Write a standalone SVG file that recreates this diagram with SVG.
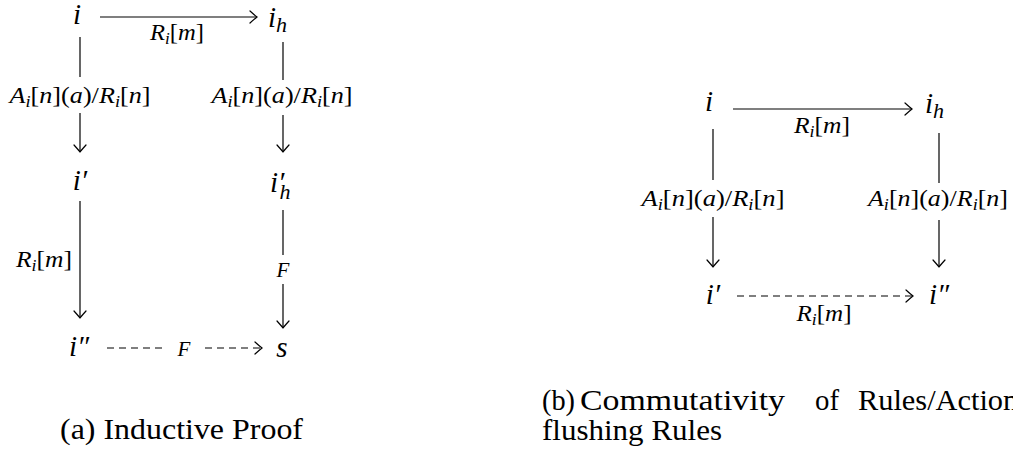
<svg xmlns="http://www.w3.org/2000/svg" width="1013" height="452" viewBox="0 0 1013 452">
  <defs>
    <!-- open "to" arrow tip shared by all connectors -->
    <marker id="to" markerUnits="userSpaceOnUse" markerWidth="16" markerHeight="16" viewBox="-10 -8 12 16" refX="0" refY="0" orient="auto">
      <path d="M-7,-6 Q-2,-1.5 0,0 Q-2,1.5 -7,6" fill="none" stroke="#000" stroke-width="1.2" stroke-linecap="round"/>
    </marker>
  </defs>

  <!-- connectors -->
  <g id="connectors" fill="none" stroke="#000" stroke-width="1.2">
    <!-- left square -->
    <path d="M100,17 H257" marker-end="url(#to)"/>
    <path d="M80,37 V77"/>
    <path d="M80,113 V152" marker-end="url(#to)"/>
    <path d="M283,42 V80"/>
    <path d="M283,115 V152" marker-end="url(#to)"/>
    <path d="M80,201 V318" marker-end="url(#to)"/>
    <path d="M283,210 V255"/>
    <path d="M283,284 V328" marker-end="url(#to)"/>
    <path d="M107,348 H167" stroke-dasharray="7 5"/>
    <path d="M205,348 H262" stroke-dasharray="7 5" marker-end="url(#to)"/>
    <!-- right square -->
    <path d="M733,109 H912" marker-end="url(#to)"/>
    <path d="M713,129 V180"/>
    <path d="M713,217 V267" marker-end="url(#to)"/>
    <path d="M939,133 V183"/>
    <path d="M939,220 V267" marker-end="url(#to)"/>
    <path d="M737,296 H913" stroke-dasharray="7 5" marker-end="url(#to)"/>
  </g>

  <!-- connector labels -->
  <g id="edge-labels" font-family="Liberation Serif" font-size="23" fill="#000">
    <text x="177" y="40" text-anchor="middle" textLength="54" lengthAdjust="spacingAndGlyphs"><tspan font-style="italic">R</tspan><tspan font-size="16" font-style="italic" dy="4">i</tspan><tspan dy="-4">[</tspan><tspan font-style="italic">m</tspan>]</text>
    <text x="80" y="103" text-anchor="middle" textLength="141" lengthAdjust="spacingAndGlyphs"><tspan font-style="italic">A</tspan><tspan font-size="16" font-style="italic" dy="4">i</tspan><tspan dy="-4">[</tspan><tspan font-style="italic">n</tspan>](<tspan font-style="italic">a</tspan>)/<tspan font-style="italic">R</tspan><tspan font-size="16" font-style="italic" dy="4">i</tspan><tspan dy="-4">[</tspan><tspan font-style="italic">n</tspan>]</text>
    <text x="282" y="103" text-anchor="middle" textLength="141" lengthAdjust="spacingAndGlyphs"><tspan font-style="italic">A</tspan><tspan font-size="16" font-style="italic" dy="4">i</tspan><tspan dy="-4">[</tspan><tspan font-style="italic">n</tspan>](<tspan font-style="italic">a</tspan>)/<tspan font-style="italic">R</tspan><tspan font-size="16" font-style="italic" dy="4">i</tspan><tspan dy="-4">[</tspan><tspan font-style="italic">n</tspan>]</text>
    <text x="72" y="267" text-anchor="end" textLength="56" lengthAdjust="spacingAndGlyphs"><tspan font-style="italic">R</tspan><tspan font-size="16" font-style="italic" dy="4">i</tspan><tspan dy="-4">[</tspan><tspan font-style="italic">m</tspan>]</text>
    <text x="283" y="277" text-anchor="middle" font-size="21" font-style="italic">F</text>
    <text x="184" y="356" text-anchor="middle" font-size="21" font-style="italic">F</text>

    <text x="822" y="133" text-anchor="middle" textLength="56" lengthAdjust="spacingAndGlyphs"><tspan font-style="italic">R</tspan><tspan font-size="16" font-style="italic" dy="4">i</tspan><tspan dy="-4">[</tspan><tspan font-style="italic">m</tspan>]</text>
    <text x="713" y="206" text-anchor="middle" textLength="143" lengthAdjust="spacingAndGlyphs"><tspan font-style="italic">A</tspan><tspan font-size="16" font-style="italic" dy="4">i</tspan><tspan dy="-4">[</tspan><tspan font-style="italic">n</tspan>](<tspan font-style="italic">a</tspan>)/<tspan font-style="italic">R</tspan><tspan font-size="16" font-style="italic" dy="4">i</tspan><tspan dy="-4">[</tspan><tspan font-style="italic">n</tspan>]</text>
    <text x="938" y="206" text-anchor="middle" textLength="140" lengthAdjust="spacingAndGlyphs"><tspan font-style="italic">A</tspan><tspan font-size="16" font-style="italic" dy="4">i</tspan><tspan dy="-4">[</tspan><tspan font-style="italic">n</tspan>](<tspan font-style="italic">a</tspan>)/<tspan font-style="italic">R</tspan><tspan font-size="16" font-style="italic" dy="4">i</tspan><tspan dy="-4">[</tspan><tspan font-style="italic">n</tspan>]</text>
    <text x="824" y="321" text-anchor="middle" textLength="55" lengthAdjust="spacingAndGlyphs"><tspan font-style="italic">R</tspan><tspan font-size="16" font-style="italic" dy="4">i</tspan><tspan dy="-4">[</tspan><tspan font-style="italic">m</tspan>]</text>
  </g>

  <!-- nodes share the same italic math look -->
  <g font-family="Liberation Serif" font-size="29" font-style="italic" fill="#000">
    <!-- inductive proof -->
    <g id="a-i"><text x="77" y="24" text-anchor="middle">i</text></g>
    <g id="a-ih"><text x="268" y="27">i<tspan font-size="22" dy="5">h</tspan></text></g>
    <g id="a-ip"><text x="80" y="190" text-anchor="middle">i&#8242;</text></g>
    <g id="a-iph"><text x="270" y="192">i&#8242;<tspan font-size="22" dx="-5" dy="7">h</tspan></text></g>
    <g id="a-ipp"><text x="69" y="356">i&#8243;</text></g>
    <g id="a-s"><text x="282" y="357" text-anchor="middle">s</text></g>
    <!-- commutativity square -->
    <g id="b-i"><text x="709" y="111" text-anchor="middle">i</text></g>
    <g id="b-ih"><text x="925" y="113">i<tspan font-size="22" dy="5">h</tspan></text></g>
    <g id="b-ip"><text x="713" y="304" text-anchor="middle">i&#8242;</text></g>
    <g id="b-ipp"><text x="929" y="304">i&#8243;</text></g>
  </g>

  <!-- captions -->
  <g font-family="Liberation Serif" font-size="30" fill="#000">
    <g id="caption-a">
      <text x="60" y="439" textLength="243" lengthAdjust="spacingAndGlyphs">(a) Inductive Proof</text>
    </g>
    <g id="caption-b">
      <text x="542" y="410" textLength="33" lengthAdjust="spacingAndGlyphs">(b)</text>
      <text x="580" y="410" textLength="205" lengthAdjust="spacingAndGlyphs">Commutativity</text>
      <text x="815" y="410" textLength="24" lengthAdjust="spacingAndGlyphs">of</text>
      <text x="858" y="410" textLength="172" lengthAdjust="spacingAndGlyphs">Rules/Actions</text>
      <text x="542" y="440" textLength="180" lengthAdjust="spacingAndGlyphs">flushing Rules</text>
    </g>
  </g>
</svg>
